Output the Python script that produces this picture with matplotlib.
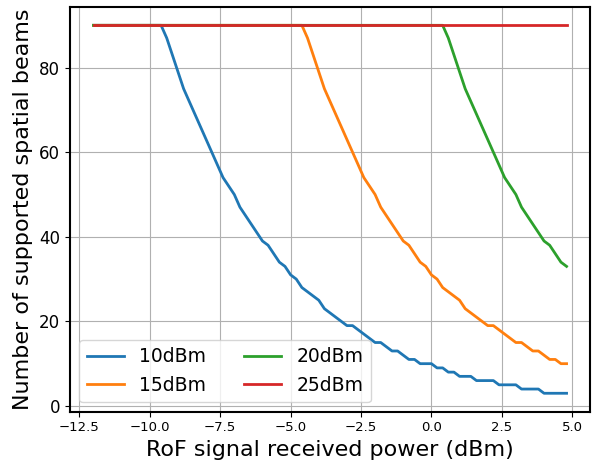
import numpy as np
import matplotlib.pyplot as plt

# received power grid (dBm)
power = np.round(np.arange(-12.0, 4.81, 0.2), 1)

# supported beams for each transmit power
beams_10 = [90] * 13 + [87, 83, 79, 75, 72, 69, 66, 63, 60, 57,
                        54, 52, 50, 47, 45, 43, 41, 39, 38, 36,
                        34, 33, 31, 30, 28, 27, 26, 25, 23, 22,
                        21, 20, 19, 19, 18, 17, 16, 15, 15, 14,
                        13, 13, 12, 11, 11, 10, 10, 10, 9, 9,
                        8, 8, 7, 7, 7, 6, 6, 6, 6, 5,
                        5, 5, 5, 4, 4, 4, 4, 3, 3, 3, 3, 3]
beams_15 = [90] * 38 + [87, 83, 79, 75, 72, 69, 66, 63, 60, 57,
                        54, 52, 50, 47, 45, 43, 41, 39, 38, 36,
                        34, 33, 31, 30, 28, 27, 26, 25, 23, 22,
                        21, 20, 19, 19, 18, 17, 16, 15, 15, 14,
                        13, 13, 12, 11, 11, 10, 10]
beams_20 = [90] * 63 + [87, 83, 79, 75, 72, 69, 66, 63, 60, 57,
                        54, 52, 50, 47, 45, 43, 41, 39, 38, 36,
                        34, 33]
beams_25 = [90] * 85

labels = ['10dBm', '15dBm', '20dBm', '25dBm']

fig = plt.figure(figsize=(5.92, 4.61), dpi=100)
ax = fig.add_axes([0.118, 0.107, 0.879, 0.878])

for y, lab in zip([beams_10, beams_15, beams_20, beams_25], labels):
    ax.plot(power, y, linewidth=2, label=lab)

ax.grid(True, color='#b0b0b0', linewidth=0.8)
for s in ax.spines.values():
    s.set_linewidth(1.5)
    s.set_color('black')
ax.tick_params(axis='x', labelsize=9.5)
ax.tick_params(axis='y', labelsize=12)
ax.set_xlabel('RoF signal received power (dBm)', fontsize=16)
ax.set_ylabel('Number of supported spatial beams', fontsize=16)
ax.legend(loc='lower left', ncol=2, fontsize=13.5)

fig.savefig('out.png', dpi=100)
